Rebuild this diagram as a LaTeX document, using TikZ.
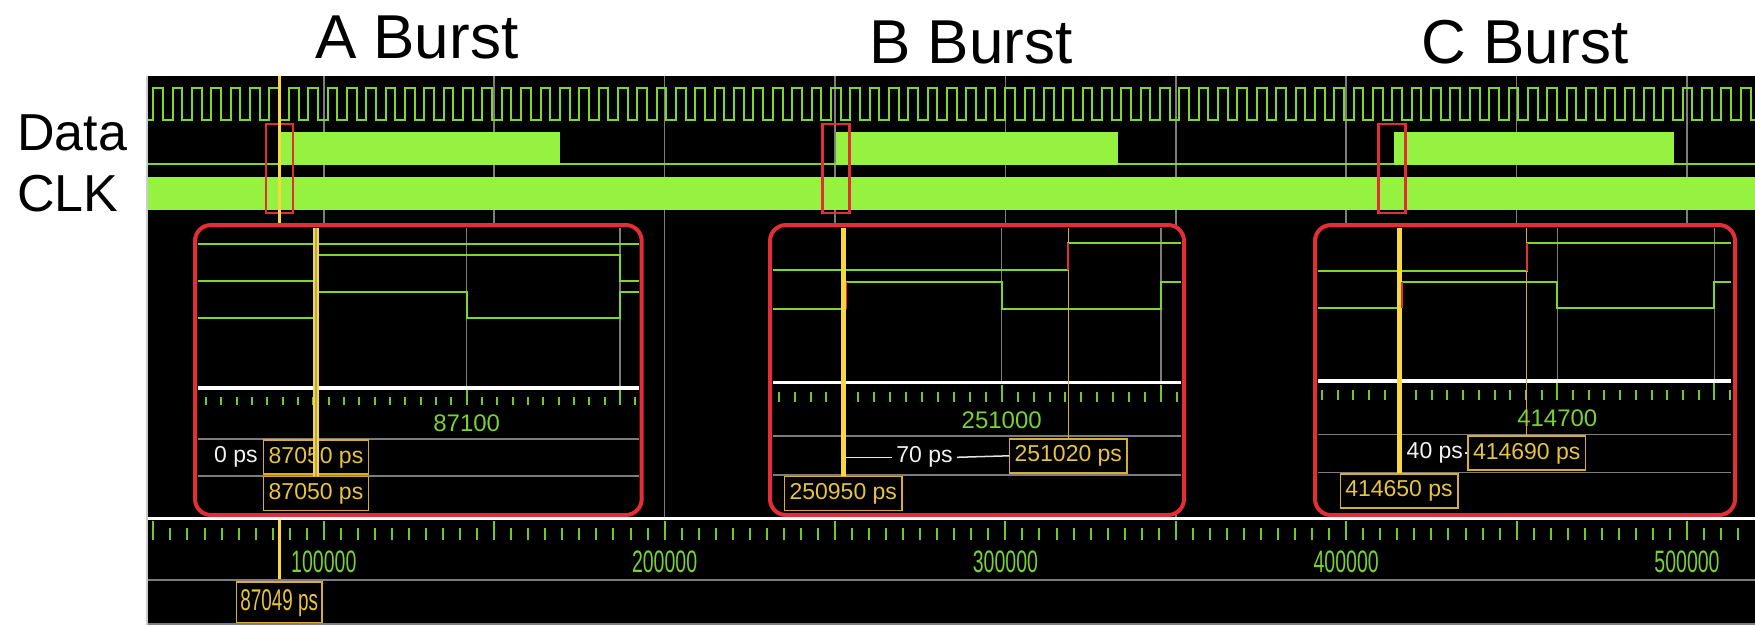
\documentclass[tikz,border=0pt]{standalone}
\usepackage{fontspec}
\setmainfont{Liberation Sans}
\usepackage{graphicx}

\definecolor{wavefill}{RGB}{150,242,64}
\definecolor{waveline}{RGB}{125,215,45}
\definecolor{tickgreen}{RGB}{115,200,35}
\definecolor{labelgreen}{RGB}{120,210,50}
\definecolor{gridgrey}{RGB}{125,125,125}
\definecolor{markred}{RGB}{226,46,52}
\definecolor{curyellow}{RGB}{250,215,60}
\definecolor{curkhaki}{RGB}{180,165,100}
\definecolor{boxgold}{RGB}{215,175,45}
\definecolor{txtgold}{RGB}{232,195,60}

\newcommand{\narrowtxt}[1]{\scalebox{0.63}[1]{#1}}

\tikzset{
  burstlabel/.style={font=\fontsize{62}{62}\selectfont, inner sep=0pt},
  siglabel/.style={font=\fontsize{52}{52}\selectfont, inner sep=0pt},
  trace/.style={waveline, line width=1.8pt},
  gridline/.style={gridgrey, line width=1.5pt},
  rowline/.style={gridgrey, line width=1.5pt},
  tickmark/.style={tickgreen, line width=2pt},
  insetframe/.style={draw=markred, line width=4pt, rounded corners=16pt},
  thickcur/.style={curyellow, line width=5pt},
  thincur/.style={boxgold, line width=1.5pt},
  inlabel/.style={text=labelgreen, font=\fontsize{24}{24}\selectfont, inner sep=0pt},
  rulerlabel/.style={text=labelgreen, font=\fontsize{31}{31}\selectfont, inner sep=0pt},
  deltatext/.style={text=white!90!gray, font=\fontsize{23}{23}\selectfont, inner xsep=4pt, inner ysep=0pt},
  deltaline/.style={white!80!gray, line width=1.5pt},
  valbox/.style={draw=boxgold, line width=1.6pt, text=txtgold,
    font=\fontsize{23}{23}\selectfont, minimum height=34pt,
    inner xsep=5pt, inner ysep=0pt, text height=16.5pt, text depth=4.5pt},
}

\begin{document}
\begin{tikzpicture}[x=1pt, y=-1pt]
    \useasboundingbox (0,0) rectangle (1755,625);
    \fill[white] (0,0) rectangle (1755,625);

    % titles
    \node[burstlabel] (ta) at (416.7,37) {A Burst};
    \node[burstlabel] (tb) at (971,42) {B Burst};
    \node[burstlabel] (tc) at (1525,42) {C Burst};
    \node[siglabel, anchor=west] (ldata) at (17,133) {Data};
    \node[siglabel, anchor=west] (lclk) at (17,194) {CLK};

    % waveform panel
    \fill[black] (148,76) rectangle (1755,625);
    \draw[gray!40, line width=2pt] (147,76) -- (147,625);
    \foreach \k in {1,...,9}
        \draw[gridline] ({153.4+170.4*\k},76) -- ++(0,442);

    % clock
    \begin{scope}
        \clip (148,76) rectangle (1755,625);
        \draw[trace, line width=2pt] (148,120)
            \foreach \k in {0,...,82}{ -- ({153.3+19.36*\k},120) -- ++(0,-31.7) -- ++(9.7,0) -- ++(0,31.7)}
            -- (1755,120);
    \end{scope}

    % data bursts
    \draw[trace] (148,164) -- (1755,164);
    \foreach \s/\e in {281.3/559.5, 836/1117.8, 1394/1674}
        \fill[wavefill] (\s,132) rectangle (\e,164.5);

    % CLK
    \fill[wavefill] (148,177) rectangle (1755,210);

    % burst marks
    \foreach \x in {266,822.5,1378.6}
        \draw[markred, line width=2.5pt] (\x,124) rectangle ++(27,89);

    % main cursor
    \coordinate (curtop) at (279.3,76);
    \node[valbox, font=\fontsize{30}{30}\selectfont, minimum height=41pt,
          text height=21.5pt, text depth=6pt, inner xsep=4pt] (b87049) at (279.3,602.5) {\narrowtxt{87049 ps}};
    \draw[curyellow, line width=3.5pt] (curtop) -- (b87049.north);

    % inset A
    \fill[black, rounded corners=16pt] (195,225) rectangle (641.7,515);
    \draw[gridline] (466.7,228) -- (466.7,388);
    \draw[gridline] (620,228) -- (620,388);
    \draw[trace] (198,244) -- (639,244);
    \draw[trace] (198,281) -- (316,281) -- (316,255) -- (620,255) -- (620,281) -- (639,281);
    \draw[trace] (198,318) -- (316,318) -- (316,292) -- (466.7,292) -- (466.7,318) -- (620,318) -- (620,292) -- (639,292);
    \draw[white, line width=3.5pt] (198,388) -- (639,388);
    \foreach \k in {-17,...,11}
        \draw[tickmark] ({466.7+15.33*\k},397) -- ++(0,8);
    \foreach \k in {0,1}
        \draw[tickmark] ({466.7+153.3*\k},390) -- ++(0,15);
    \node[inlabel] (la) at (466.7,423) {87100};
    \draw[rowline] (198,439) -- (639,439);
    \draw[rowline] (198,476) -- (639,476);
    \node[valbox] (bA1) at (316,457) {87050 ps};
    \node[valbox] (bA2) at (316,493.5) {87050 ps};
    \node[deltatext, anchor=east] (dA) at ([xshift=-1pt]bA1.west) {0 ps};
    \draw[curyellow, line width=6.5pt] (316,228) -- (bA2.north);
    \draw[curkhaki, line width=2pt] (316,228) -- (bA2.north);
    \draw[insetframe] (195,225) rectangle (641.7,515);

    % inset B
    \fill[black, rounded corners=16pt] (770,225) rectangle (1184,515);
    \draw[gridline] (1001.7,228) -- (1001.7,382.7);
    \draw[gridline] (1161,228) -- (1161,382.7);
    \draw[trace] (773,270) -- (1068.3,270) -- (1068.3,242.7) -- (1181,242.7);
    \draw[trace] (773,309.3) -- (845.5,309.3) -- (845.5,281.7) -- (1001.7,281.7) -- (1001.7,309.3) -- (1161,309.3) -- (1161,281.7) -- (1181,281.7);
    \draw[white, line width=3.5pt] (773,382.7) -- (1181,382.7);
    \foreach \k in {-14,...,11}
        \draw[tickmark] ({1001.7+15.93*\k},392) -- ++(0,9.5);
    \foreach \k in {0,1}
        \draw[tickmark] ({1001.7+159.3*\k},385) -- ++(0,16.5);
    \node[inlabel] (lb) at (1001.7,420) {251000};
    \draw[rowline] (773,436) -- (1181,436);
    \draw[rowline] (773,475) -- (1181,475);
    \node[valbox] (bB2) at (1068.3,455.8) {251020 ps};
    \node[valbox] (bB1) at (843.3,493.3) {250950 ps};
    \node[deltatext] (d70) at (924.5,457.3) {70 ps};
    \draw[deltaline] (846,457.3) -- (d70.west);
    \draw[deltaline] (d70.east) -- (bB2.west);
    \draw[thickcur] (843.3,228) -- (bB1.north);
    \draw[thincur] (1068.3,228) -- (bB2.north);
    \draw[markred, line width=1.8pt] (1068.3,270) -- (1068.3,242.7);
    \draw[markred, line width=1.8pt] (846.5,309.3) -- (846.5,281.7);
    \draw[insetframe] (770,225) rectangle (1184,515);

    % inset C
    \fill[black, rounded corners=16pt] (1315,225) rectangle (1735,515);
    \draw[gridline] (1557.3,228) -- (1557.3,381);
    \draw[gridline] (1714.3,228) -- (1714.3,381);
    \draw[trace] (1318,270.7) -- (1526.7,270.7) -- (1526.7,243.3) -- (1731,243.3);
    \draw[trace] (1318,308.3) -- (1401,308.3) -- (1401,281.7) -- (1557.3,281.7) -- (1557.3,308.3) -- (1714.3,308.3) -- (1714.3,281.7) -- (1731,281.7);
    \draw[white, line width=3.5pt] (1318,381) -- (1731,381);
    \foreach \k in {-15,...,11}
        \draw[tickmark] ({1557.3+15.7*\k},390) -- ++(0,10);
    \foreach \k in {0,1}
        \draw[tickmark] ({1557.3+157*\k},383) -- ++(0,17);
    \node[inlabel] (lc) at (1557.3,418.3) {414700};
    \draw[rowline] (1318,434.3) -- (1731,434.3);
    \draw[rowline] (1318,472.3) -- (1731,472.3);
    \node[valbox] (bC2) at (1526.7,453.2) {414690 ps};
    \node[valbox] (bC1) at (1399,490.8) {414650 ps};
    \node[deltatext, anchor=east, inner xsep=2pt] (d40) at ([xshift=-2pt]bC2.west) {40 ps};
    \draw[deltaline] (d40.east) -- (bC2.west);
    \draw[thickcur] (1399,228) -- (bC1.north);
    \draw[thincur] (1526.7,228) -- (bC2.north);
    \draw[markred, line width=1.8pt] (1526.7,270.7) -- (1526.7,243.3);
    \draw[markred, line width=1.8pt] (1402,308.3) -- (1402,281.7);
    \draw[insetframe] (1315,225) rectangle (1735,515);

    % time ruler
    \draw[white, line width=3.5pt] (148,518.3) -- (1755,518.3);
    \foreach \k in {-10,...,83}
        \draw[tickmark] ({323.8+17.04*\k},528) -- ++(0,12);
    \foreach \k in {0,...,9}
        \draw[tickmark] ({153.4+170.4*\k},521) -- ++(0,19);
    \foreach \v [count=\i from 0] in {100000,200000,300000,400000,500000}
        \node[rulerlabel] (rl\i) at ({323.8+340.8*\i},562) {\narrowtxt{\v}};
    \draw[gridgrey, line width=2.5pt] (148,580) -- (1755,580);
    \draw[gridgrey, line width=1.5pt] (148,624) -- (1755,624);
\end{tikzpicture}
\end{document}
